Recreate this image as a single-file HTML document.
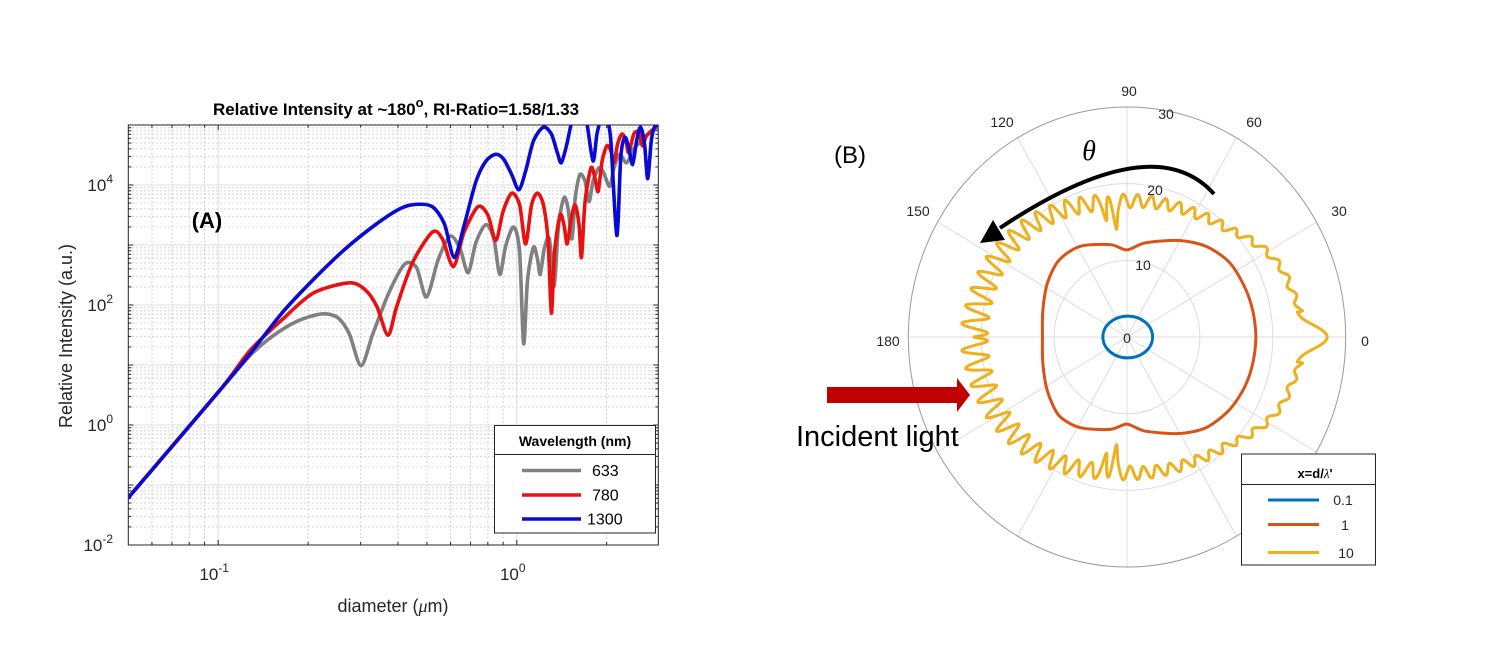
<!DOCTYPE html>
<html><head><meta charset="utf-8"><style>
html,body{margin:0;padding:0;background:#fff;}
svg{display:block;font-family:"Liberation Sans",Arial,sans-serif;}
</style></head><body>
<svg id="s" width="1500" height="667" viewBox="0 0 1500 667" xmlns="http://www.w3.org/2000/svg">
<defs>
<clipPath id="cA"><rect x="128.3" y="125" width="530" height="420"/></clipPath>
</defs>
<rect width="1500" height="667" fill="#fff"/>
<g id="gridA"></g>
<rect x="128.3" y="125" width="530" height="420" fill="none" stroke="#262626" stroke-width="1"/>
<g clip-path="url(#cA)">
<g transform="translate(59.7,90) scale(0.3965,0.3383)" fill="none" stroke-linejoin="round" stroke-linecap="round">
<polyline class="sm" vector-effect="non-scaling-stroke" stroke="#808080" stroke-width="3.6" points="173,1205 400,893 480,785 540,725 600,683 660,662 700,672 730,720 760,815 790,720 830,600 870,515 900,525 925,612 955,500 985,432 1010,470 1030,540 1050,450 1075,398 1095,440 1110,545 1125,460 1145,405 1160,480 1170,750 1180,560 1195,465 1205,500 1212,545 1222,470 1235,440 1247,580 1258,400 1272,318 1282,350 1292,440 1300,320 1312,250 1325,270 1335,330 1345,270 1360,230 1372,245 1387,285 1398,230 1412,190 1430,215 1450,170 1470,150 1485,130 1510,110"/>
<polyline class="sm" vector-effect="non-scaling-stroke" stroke="#e81010" stroke-width="3.6" points="173,1205 400,893 480,770 560,680 640,600 730,570 770,590 800,640 828,725 850,640 890,510 940,420 965,440 993,522 1020,420 1055,345 1080,370 1100,445 1118,360 1140,305 1160,340 1175,455 1190,340 1205,305 1220,340 1232,450 1240,660 1248,480 1262,370 1272,400 1280,455 1290,380 1300,340 1310,400 1316,495 1325,330 1340,230 1350,260 1358,300 1368,210 1380,165 1390,180 1398,215 1407,160 1418,130 1428,150 1435,185 1448,130 1460,125 1470,165 1480,135 1505,108"/>
<polyline class="sm" vector-effect="non-scaling-stroke" stroke="#0a0ad0" stroke-width="3.6" points="173,1205 400,893 480,780 560,660 640,560 720,470 800,395 860,350 900,338 940,345 970,395 995,495 1020,400 1050,270 1075,210 1100,190 1120,205 1140,250 1158,295 1175,240 1195,150 1220,110 1240,130 1255,185 1265,215 1278,165 1290,100 1300,60 1320,60 1330,100 1345,210 1355,130 1365,90 1380,90 1390,150 1405,430 1415,200 1425,140 1435,170 1445,220 1455,150 1465,110 1475,160 1483,262 1492,150 1500,110 1510,100"/>
</g>
</g>
<g id="ticksA" font-size="17" fill="#262626"></g>
<text x="396" y="115" font-size="17" font-weight="bold" text-anchor="middle" fill="#000">Relative Intensity at ~180<tspan font-size="13" dy="-8">o</tspan><tspan dy="8">, RI-Ratio=1.58/1.33</tspan></text>
<text x="207" y="228" font-size="22" font-weight="bold" text-anchor="middle" fill="#000">(A)</text>
<text transform="translate(72,336) rotate(-90)" font-size="18" text-anchor="middle" fill="#262626">Relative Intensity (a.u.)</text>
<text x="393" y="612" font-size="18" text-anchor="middle" fill="#262626">diameter (<tspan font-family="Liberation Serif,serif" font-style="italic">μ</tspan>m)</text>
<rect x="494.5" y="425.5" width="161" height="107.5" fill="#fff" stroke="#262626" stroke-width="1"/>
<line x1="494.5" y1="454.5" x2="655.5" y2="454.5" stroke="#262626" stroke-width="1"/>
<text x="575" y="446" font-size="14" font-weight="bold" text-anchor="middle" fill="#000">Wavelength (nm)</text>
<line x1="522" y1="470.5" x2="581" y2="470.5" stroke="#808080" stroke-width="3.6"/>
<line x1="522" y1="495" x2="581" y2="495" stroke="#e81010" stroke-width="3.6"/>
<line x1="522" y1="519" x2="581" y2="519" stroke="#0a0ad0" stroke-width="3.6"/>
<text x="592" y="476" font-size="16" fill="#000">633</text>
<text x="592" y="500.5" font-size="16" fill="#000">780</text>
<text x="587" y="524.5" font-size="16" fill="#000">1300</text>

<g id="polarGrid"></g>
<g transform="translate(800.7,67) scale(0.3825,0.3484)" fill="none">
<polygon class="sm" vector-effect="non-scaling-stroke" stroke="#D95319" stroke-width="3" stroke-linejoin="round" points="853,525 900,505 990,498 1060,515 1120,560 1160,630 1182,700 1190,775 1182,850 1160,920 1120,985 1060,1035 990,1052 900,1045 853,1025 810,1040 730,1035 675,1000 645,930 633,850 632,775 633,700 645,620 675,555 730,515 810,510"/>
<ellipse vector-effect="non-scaling-stroke" cx="855" cy="775" rx="65" ry="60" stroke="#0072BD" stroke-width="3"/>
</g>
<path id="yel" fill="none" stroke="#EDB120" stroke-width="3" stroke-linejoin="round"/>
<g font-size="14" fill="#262626" text-anchor="middle">
<text x="1129" y="96">90</text>
<text x="1002" y="127">120</text>
<text x="1254" y="127">60</text>
<text x="918" y="216">150</text>
<text x="1339" y="216">30</text>
<text x="888" y="346">180</text>
<text x="1365" y="346">0</text>
<text x="1166" y="119">30</text>
<text x="1155" y="195">20</text>
<text x="1143" y="270">10</text>
<text x="1127" y="343">0</text>
</g>
<text x="850" y="163" font-size="24" text-anchor="middle" fill="#000">(B)</text>
<text x="1089" y="160" font-size="28" font-style="italic" font-family="Liberation Serif,serif" text-anchor="middle" fill="#000">θ</text>
<path d="M1214,194 Q1153,126 1000,228" fill="none" stroke="#000" stroke-width="4"/>
<polygon points="980,243 1005,240 993,220" fill="#000"/>
<rect x="827" y="387" width="132" height="16" fill="#c00000"/>
<polygon points="957,378 970,395 957,412" fill="#c00000"/>
<text x="796" y="446" font-size="29" fill="#000">Incident light</text>
<rect x="1241.5" y="454" width="134" height="111" fill="#fff" stroke="#262626" stroke-width="1"/>
<line x1="1241.5" y1="484.5" x2="1375.5" y2="484.5" stroke="#262626" stroke-width="1"/>
<text x="1315" y="478" font-size="13" font-weight="bold" text-anchor="middle" fill="#000">x=d/<tspan font-family="Liberation Serif,serif" font-style="italic" font-weight="normal">λ</tspan>'</text>
<line x1="1268" y1="500" x2="1319" y2="500" stroke="#0072BD" stroke-width="3"/>
<line x1="1268" y1="524.5" x2="1319" y2="524.5" stroke="#D95319" stroke-width="3"/>
<line x1="1268" y1="552.5" x2="1319" y2="552.5" stroke="#EDB120" stroke-width="3"/>
<text x="1343" y="505" font-size="14" text-anchor="middle" fill="#262626">0.1</text>
<text x="1345" y="530" font-size="14" text-anchor="middle" fill="#262626">1</text>
<text x="1346" y="558" font-size="14" text-anchor="middle" fill="#262626">10</text>
</svg>
<script>
(function(){
var NS="http://www.w3.org/2000/svg";
function el(p,t,a){var e=document.createElementNS(NS,t);for(var k in a)e.setAttribute(k,a[k]);p.appendChild(e);return e;}
// smoothing
Array.prototype.slice.call(document.querySelectorAll('.sm')).forEach(function(e){
var closed=e.tagName=='polygon';var pts=e.getAttribute('points').trim().split(/\s+/).map(function(s){var a=s.split(',');return [+a[0],+a[1]];});
var n=pts.length;function P(i){if(closed)return pts[(i+n)%n];return pts[Math.max(0,Math.min(n-1,i))];}
var d='M'+pts[0][0]+','+pts[0][1];var m=closed?n:n-1;
for(var i=0;i<m;i++){var p0=P(i-1),p1=P(i),p2=P(i+1),p3=P(i+2);var k=0.14;
d+='C'+(p1[0]+(p2[0]-p0[0])*k).toFixed(1)+','+(p1[1]+(p2[1]-p0[1])*k).toFixed(1)+' '+(p2[0]-(p3[0]-p1[0])*k).toFixed(1)+','+(p2[1]-(p3[1]-p1[1])*k).toFixed(1)+' '+p2[0]+','+p2[1];}
if(closed)d+='Z';
var np=el(e.parentNode,'path',{d:d});['vector-effect','stroke','stroke-width','stroke-linejoin','stroke-linecap'].forEach(function(a){if(e.getAttribute(a))np.setAttribute(a,e.getAttribute(a));});
np.setAttribute('fill','none');e.parentNode.removeChild(e);});
var g=document.getElementById('gridA');
var x0=128.3,x1=658.3,y0=545,y1=125,dec=298.6,lmin=Math.log10(0.05);
function X(v){return x0+(Math.log10(v)-lmin)*dec;}
function Y(l){return y0-(l+2)*60;}
var xs=[0.05,0.06,0.07,0.08,0.09,0.1,0.2,0.3,0.4,0.5,0.6,0.7,0.8,0.9,1,2,3];
xs.forEach(function(v){var x=X(v);if(x<=x0+0.5||x>=x1-0.5)return;var maj=(v==0.1||v==1);
el(g,'line',{x1:x,x2:x,y1:y1,y2:y0,stroke:maj?'#dcdcdc':'#c8c8c8','stroke-width':1,'stroke-dasharray':maj?'':'1.5,2.5'});
el(g,'line',{x1:x,x2:x,y1:y0,y2:y0-(maj?5:3),stroke:'#262626','stroke-width':1});
el(g,'line',{x1:x,x2:x,y1:y1,y2:y1+(maj?5:3),stroke:'#262626','stroke-width':1});});
for(var d=-2;d<5;d++){for(var m=1;m<10;m++){var y=Y(d+Math.log10(m));if(y<=y1+0.5||y>=y0-0.5)continue;var maj=(m==1);
el(g,'line',{x1:x0,x2:x1,y1:y,y2:y,stroke:maj?'#dcdcdc':'#c8c8c8','stroke-width':1,'stroke-dasharray':maj?'':'1.5,2.5'});
el(g,'line',{x1:x0,x2:x0+(maj?5:3),y1:y,y2:y,stroke:'#262626','stroke-width':1});
el(g,'line',{x1:x1,x2:x1-(maj?5:3),y1:y,y2:y,stroke:'#262626','stroke-width':1});}}
var t=document.getElementById('ticksA');
[[-2,'-2'],[0,'0'],[2,'2'],[4,'4']].forEach(function(a){var tx=el(t,'text',{x:113,y:Y(a[0])+6,'text-anchor':'end'});
tx.appendChild(document.createTextNode('10'));var sp=el(tx,'tspan',{dy:-8,'font-size':12});sp.textContent=a[1];});
[[0.1,'-1'],[1,'0']].forEach(function(a){var tx=el(t,'text',{x:X(a[0])-4,y:580,'text-anchor':'middle'});
tx.appendChild(document.createTextNode('10'));var sp=el(tx,'tspan',{dy:-8,'font-size':12});sp.textContent=a[1];});
var p=document.getElementById('polarGrid');var cx=1127,cy=337,rx=218.7,ry=230;
for(var a=0;a<360;a+=30){var r=a*Math.PI/180;el(p,'line',{x1:cx,y1:cy,x2:cx+rx*Math.cos(r),y2:cy-ry*Math.sin(r),stroke:'#dcdcdc','stroke-width':1});}
[1/3,2/3].forEach(function(f){el(p,'ellipse',{cx:cx,cy:cy,rx:rx*f,ry:ry*f,fill:'none',stroke:'#dcdcdc','stroke-width':1});});
el(p,'ellipse',{cx:cx,cy:cy,rx:rx,ry:ry,fill:'none',stroke:'#9a9a9a','stroke-width':1});
var A=[0,8,15,22,30,45,60,75,90,105,120,135,150,165,180],R=[0.915,0.80,0.78,0.77,0.74,0.66,0.62,0.60,0.59,0.60,0.63,0.66,0.68,0.69,0.70];
function base(th){for(var i=0;i<A.length-1;i++){if(th<=A[i+1]){var f=(th-A[i])/(A[i+1]-A[i]);return R[i]+(R[i+1]-R[i])*f;}}return R[R.length-1];}
var d='';for(var i=0;i<=3600;i++){var th=i/10;var ta=th>180?360-th:th;
var b=base(ta);if(ta<8){b=0.78+0.135*Math.exp(-Math.pow(ta/4.5,2));}
var amp=ta<8?0:(0.012+0.05*Math.pow(ta/180,1.5));
var r=b+amp*Math.sin(ta*Math.PI/180*60);
r-=0.12*Math.exp(-Math.pow((ta-96)/1.2,2))+0.05*Math.exp(-Math.pow((ta-100.5)/0.9,2));
var rr=th*Math.PI/180;var x=cx+r*rx*Math.cos(rr),y=cy-r*ry*Math.sin(rr);
d+=(i?'L':'M')+x.toFixed(1)+','+y.toFixed(1);}
document.getElementById('yel').setAttribute('d',d+'Z');
})();
</script>
</body></html>
